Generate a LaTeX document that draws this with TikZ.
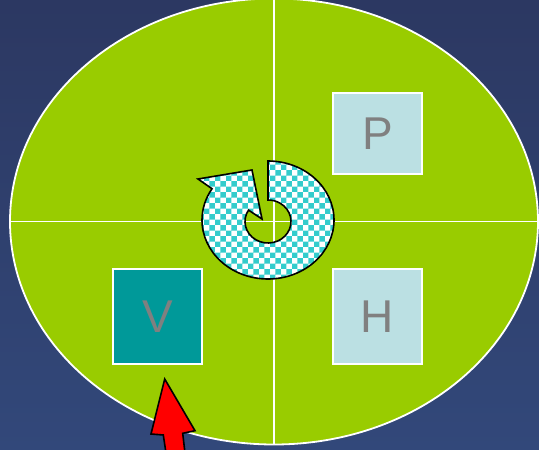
\documentclass[tikz,border=0pt]{standalone}
\usepackage{fontspec}
\setmainfont{Liberation Sans}
\usetikzlibrary{shapes.geometric,patterns,calc}
\definecolor{bgtop}{RGB}{44,56,98}
\definecolor{bgbot}{RGB}{50,72,122}
\definecolor{ovalgreen}{RGB}{153,204,0}
\definecolor{paleblue}{RGB}{187,224,227}
\definecolor{vteal}{RGB}{0,153,153}
\definecolor{lettergray}{RGB}{128,128,128}
\definecolor{checkcyan}{RGB}{51,204,204}
\begin{document}
\begin{tikzpicture}[x=1pt,y=1pt,
  box/.style={draw=white,line width=1.8pt,inner sep=0pt,minimum width=89pt,
    font=\fontsize{46}{46}\selectfont,text=lettergray},
  outline/.style={draw=black,line width=1.6pt,line join=miter}]
\useasboundingbox (0,0) rectangle (539,-450);
\shade[top color=bgtop,bottom color=bgbot] (0,0) rectangle (539,-450);
\node[ellipse,draw=white,line width=1.8pt,fill=ovalgreen,minimum width=528pt,
  minimum height=446pt,inner sep=0pt] (oval) at (274,-221.5) {};
\draw[white,line width=1.8pt] (oval.north)--(oval.south) (oval.west)--(oval.east);
\node[box,fill=paleblue,minimum height=81pt] (P) at (377.5,-133.5) {P};
\node[box,fill=paleblue,minimum height=95pt] (H) at (377.5,-316.5) {H};
\node[box,fill=vteal,minimum height=95pt] (V) at (157.5,-316.5) {V};
\coordinate (ic) at (268,-221.5);
\path[outline,preaction={fill=white},pattern=checkerboard,pattern color=checkcyan]
  (268,-161) arc[start angle=90,end angle=-212,x radius=66,y radius=59]
  -- (198,-179) -- (252,-170) -- (262,-219) -- ($(ic)+(148:23 and 21.5)$)
  arc[start angle=148,end angle=450,x radius=23,y radius=21.5] -- cycle;
\path[outline,fill=red] (164.7,-379) -- (195,-430.7) -- (182.7,-433.3)
  -- (185,-453) -- (166,-453) -- (163.3,-435) -- (151,-434) -- cycle;
\end{tikzpicture}
\end{document}
